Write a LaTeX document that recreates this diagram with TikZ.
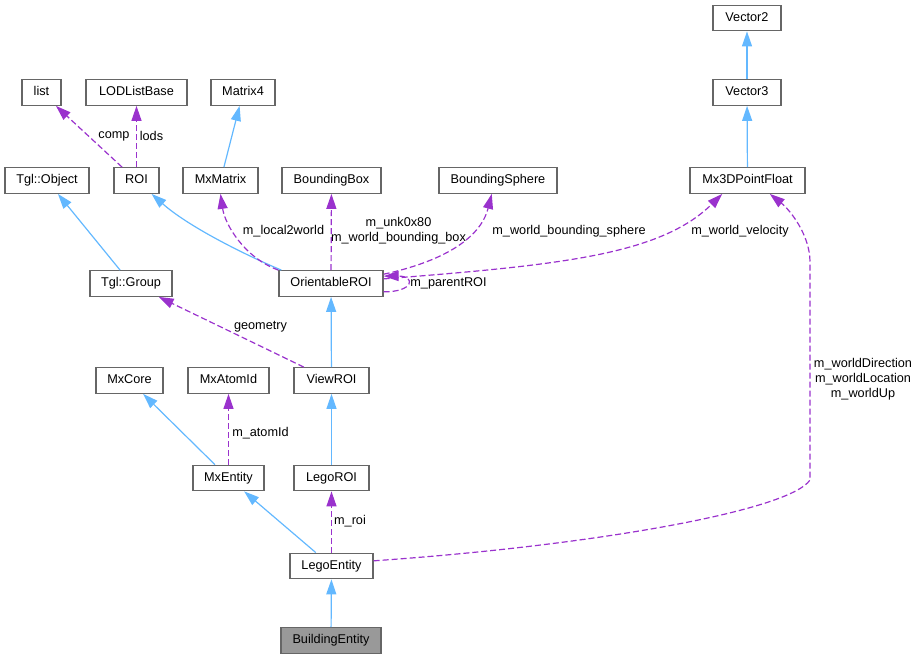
\documentclass[tikz,border=0pt]{standalone}
\usepackage{fontspec}
\setmainfont{Liberation Sans}
\usetikzlibrary{arrows.meta}

\definecolor{edgeblue}{HTML}{63B8FF}
\definecolor{edgepurple}{HTML}{9A32CD}
\definecolor{boxgray}{HTML}{666666}
\definecolor{fillgray}{HTML}{999999}

\begin{document}
\begin{tikzpicture}[x=1pt,y=-1pt,
  every node/.style={font=\fontsize{12.7}{15}\selectfont},
  cls/.style={draw=boxgray,line width=1.3pt,fill=white,inner sep=0pt,minimum height=25.5pt,text height=9pt,text depth=2.5pt},
  inh/.style={edgeblue,line width=1.2pt,-{Triangle[length=15pt,width=10pt]}},
  use/.style={edgepurple,line width=1.2pt,dash pattern=on 6pt off 3pt,-{Triangle[length=15pt,width=10pt]}},
  lbl/.style={inner sep=0pt,align=center}]

\useasboundingbox (0,0) rectangle (919,659);

\node[cls,minimum width=39pt] (list) at (41.5,92.5) {list};
\node[cls,minimum width=101pt] (lodlist) at (136.5,92.5) {LODListBase};
\node[cls,minimum width=64pt] (matrix4) at (243,92.5) {Matrix4};
\node[cls,minimum width=68pt] (vector2) at (747,18) {Vector2};
\node[cls,minimum width=68pt] (vector3) at (747,92.5) {Vector3};

\node[cls,minimum width=84pt] (tglobject) at (47,180.5) {Tgl::Object};
\node[cls,minimum width=45pt] (roi) at (136.5,180.5) {ROI};
\node[cls,minimum width=75pt] (mxmatrix) at (220.5,180.5) {MxMatrix};
\node[cls,minimum width=99pt] (bbox) at (331.5,180.5) {BoundingBox};
\node[cls,minimum width=118pt] (bsphere) at (498,180.5) {BoundingSphere};
\node[cls,minimum width=115pt] (mx3d) at (747.5,180.5) {Mx3DPointFloat};

\node[cls,minimum width=82pt] (tglgroup) at (131,283.5) {Tgl::Group};
\node[cls,minimum width=104pt] (orient) at (331,283.5) {OrientableROI};

\node[cls,minimum width=67pt] (mxcore) at (129.5,380.5) {MxCore};
\node[cls,minimum width=81pt] (mxatomid) at (228.5,380.5) {MxAtomId};
\node[cls,minimum width=75pt] (viewroi) at (331.5,380.5) {ViewROI};

\node[cls,minimum width=71pt] (mxentity) at (228.5,478) {MxEntity};
\node[cls,minimum width=75pt] (legoroi) at (331.5,478) {LegoROI};

\node[cls,minimum width=83pt] (legoent) at (331.5,566) {LegoEntity};
\node[cls,minimum width=100pt,fill=fillgray] (building) at (331,640.5) {BuildingEntity};

% inheritance
\draw[inh] (vector3) -- (vector2);
\draw[inh] (mx3d) -- (vector3);
\draw[inh] (mxmatrix) -- (matrix4);
\draw[inh] (tglgroup) -- (tglobject);
\draw[inh] ([xshift=3pt]orient.north west) .. controls (250,257) and (190,228) .. (roi);
\draw[inh] (viewroi) -- (orient);
\draw[inh] (legoroi) -- (viewroi);
\draw[inh] (mxentity) -- (mxcore);
\draw[inh] (legoent) -- (mxentity);
\draw[inh] (building) -- (legoent);

% usage
\draw[use] (roi) -- (list);
\draw[use] (roi) -- (lodlist);
\draw[use] (orient.north west) .. controls (245,258) and (225,225) .. (mxmatrix.south);
\draw[use] (orient) -- (bbox);
\draw[use] (orient.10) .. controls (440,262) and (480,240) .. (bsphere.-115);
\draw[use] (orient.5) .. controls (560,265) and (660,255) .. (mx3d.-152);
\draw[use] (orient.-9) .. controls (414,292) and (416,276) .. (orient.8);
\draw[use] (viewroi) -- (tglgroup);
\draw[use] (mxentity) -- (mxatomid);
\draw[use] (legoent) -- (legoroi);
\draw[use] (legoent.7) .. controls (600,545) and (790,510) .. (810,480) -- (810,262)
  .. controls (810,235) and (790,210) .. (mx3d.-31);

\node[lbl] (lcomp) at (114,136) {comp};
\node[lbl] (llods) at (151.5,136) {lods};
\node[lbl] (llocal) at (283.5,231) {m\_local2world};
\node[lbl] (lbox) at (398.5,230.5) {m\_unk0x80\\m\_world\_bounding\_box};
\node[lbl] (lsphere) at (569,231) {m\_world\_bounding\_sphere};
\node[lbl] (lvel) at (740,231) {m\_world\_velocity};
\node[lbl] (lparent) at (448.5,283) {m\_parentROI};
\node[lbl] (lgeom) at (260.5,327) {geometry};
\node[lbl] (latom) at (260.5,433) {m\_atomId};
\node[lbl] (lroi) at (350,521) {m\_roi};
\node[lbl] (lworld) at (863,379) {m\_worldDirection\\m\_worldLocation\\m\_worldUp};

\end{tikzpicture}
\end{document}
